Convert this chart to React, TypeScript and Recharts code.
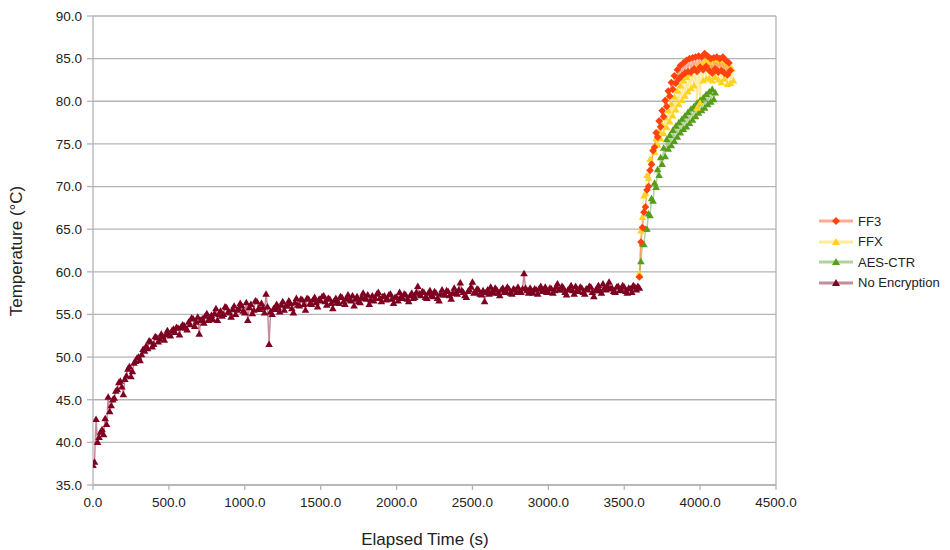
import { LineChart, Line, XAxis, YAxis, CartesianGrid, ReferenceLine } from 'recharts';

const X_TICKS = [0, 500, 1000, 1500, 2000, 2500, 3000, 3500, 4000, 4500];
const Y_TICKS = [35, 40, 45, 50, 55, 60, 65, 70, 75, 80, 85, 90];

// baseline run, one reading every 10 s from t = 0 (20 readings per row)
const NO_ENC_START = 0;
const NO_ENC_STEP = 10;
const noEncryption = [
  37.3, 37.7, 42.7, 40.0, 40.6, 41.2, 41.5, 40.9, 42.8, 42.1, 45.3, 43.6, 44.3, 45.0, 45.2, 46.0, 46.2, 47.0, 47.2, 46.5,
  45.6, 47.4, 47.8, 48.6, 48.9, 47.7, 48.3, 49.3, 49.5, 49.9, 50.0, 49.6, 50.3, 50.9, 50.7, 51.3, 51.0, 51.9, 51.8, 51.2,
  51.5, 52.4, 52.3, 51.8, 52.1, 52.7, 52.4, 52.0, 52.6, 53.1, 52.8, 52.5, 53.1, 53.3, 52.9, 53.5, 53.4, 52.6, 53.5, 53.8,
  53.7, 53.4, 53.2, 54.1, 53.8, 54.6, 54.5, 53.6, 54.1, 54.7, 52.7, 54.3, 54.5, 54.0, 54.8, 55.1, 54.3, 54.6, 54.9, 54.4,
  55.1, 55.7, 54.3, 55.0, 55.4, 54.8, 55.0, 55.9, 55.8, 55.3, 55.2, 54.7, 55.6, 56.0, 55.0, 55.5, 55.7, 56.3, 56.0, 55.4,
  55.2, 56.4, 54.3, 55.8, 56.2, 55.1, 55.5, 56.6, 56.5, 55.7, 55.6, 56.3, 55.8, 55.2, 57.4, 55.9, 51.5, 55.3, 55.0, 55.7,
  55.6, 56.2, 55.8, 55.3, 56.1, 56.5, 55.5, 56.0, 56.0, 56.6, 56.3, 55.7, 55.2, 56.4, 56.9, 56.1, 56.0, 56.8, 56.7, 56.2,
  55.5, 56.9, 56.8, 56.3, 56.2, 56.7, 57.0, 56.4, 55.9, 56.8, 56.6, 57.1, 57.2, 56.5, 56.1, 56.9, 56.8, 56.3, 55.7, 56.6,
  56.9, 56.4, 56.3, 57.1, 57.0, 56.5, 56.2, 56.9, 57.3, 56.7, 56.6, 57.2, 56.0, 56.8, 57.1, 56.5, 56.4, 57.0, 57.5, 56.9,
  56.8, 57.3, 56.2, 56.7, 57.2, 56.6, 56.9, 57.4, 57.6, 56.9, 56.5, 57.1, 57.2, 56.7, 56.8, 57.3, 57.4, 56.8, 56.3, 57.0,
  57.0, 56.6, 57.6, 57.1, 56.9, 57.4, 57.3, 56.8, 56.5, 57.2, 57.5, 56.9, 57.0, 57.6, 58.3, 57.4, 57.2, 57.7, 57.6, 57.0,
  56.9, 57.5, 57.8, 57.2, 57.1, 57.7, 57.5, 56.9, 56.6, 57.4, 57.9, 57.3, 57.3, 57.8, 57.7, 57.2, 56.8, 57.5, 58.1, 57.5,
  57.4, 57.9, 58.7, 57.8, 57.6, 57.2, 57.0, 57.7, 57.9, 58.2, 58.8, 57.5, 57.6, 58.0, 57.9, 57.4, 57.3, 57.8, 56.5, 57.6,
  57.9, 57.4, 58.2, 57.7, 57.5, 58.1, 57.9, 57.5, 57.2, 57.9, 58.1, 57.6, 57.7, 58.2, 58.0, 57.5, 57.4, 58.0, 57.9, 57.6,
  58.2, 57.7, 57.6, 58.0, 59.8, 58.1, 57.8, 57.5, 58.1, 57.8, 57.5, 58.0, 57.9, 57.4, 58.0, 58.3, 57.7, 57.9, 58.2, 57.6,
  57.6, 58.1, 58.0, 57.5, 57.8, 58.2, 58.6, 57.9, 57.9, 58.3, 58.1, 57.6, 57.3, 57.9, 58.0, 58.4, 57.8, 57.4, 58.3, 57.9,
  57.7, 58.2, 58.1, 57.6, 57.4, 58.0, 57.9, 58.3, 58.2, 57.6, 57.1, 57.8, 58.0, 58.4, 57.8, 57.5, 58.6, 58.1, 57.9, 58.3,
  58.8, 58.0, 58.1, 57.7, 57.6, 58.2, 58.3, 57.8, 57.9, 58.4, 58.2, 57.7, 57.5, 58.1, 58.0, 57.6, 58.4, 58.2, 57.9, 58.3,
  58.1,
];

// encryption runs, one reading every 10 s from t = 3600 (10 readings per row)
const ENC_START = 3600;
const ENC_STEP = 10;
const ff3 = [
  59.4, 63.5, 65.2, 67.0, 67.6, 69.6, 70.0, 71.9, 72.6, 74.2,
  74.6, 76.3, 75.8, 77.7, 77.0, 78.9, 78.2, 80.1, 79.4, 81.2,
  80.6, 82.2, 81.4, 83.0, 82.1, 83.7, 82.6, 84.2, 83.0, 84.5,
  83.3, 84.8, 83.5, 85.0, 83.4, 85.1, 83.8, 85.2, 83.5, 85.3,
  84.0, 85.2, 83.7, 85.6, 84.1, 85.3, 83.6, 85.0, 83.3, 85.1,
  83.8, 85.2, 83.4, 85.0, 83.6, 85.2, 83.3, 84.8, 83.1, 84.5,
  83.6,
];
const ffx = [
  59.8, 64.8, 66.4, 68.9, 69.2, 71.3, 71.0, 73.2, 72.8, 74.5,
  74.0, 75.6, 74.9, 76.4, 75.6, 77.2, 76.2, 78.1, 76.9, 78.9,
  77.6, 79.7, 78.3, 80.5, 79.0, 81.2, 79.6, 81.8, 80.1, 82.4,
  80.6, 82.8, 81.1, 83.2, 81.5, 83.6, 81.8, 83.9, 79.2, 84.1,
  79.8, 84.4, 82.4, 84.6, 82.6, 84.8, 82.7, 84.6, 82.4, 84.9,
  82.8, 85.0, 82.5, 84.8, 82.2, 85.0, 82.6, 84.6, 82.0, 84.2,
  82.1, 83.8, 82.4,
];
const aesCtr = [
  59.6, 61.2, 63.3, 63.2, 65.0, 65.0, 66.8, 66.6, 68.6, 68.3,
  70.4, 69.9, 72.0, 71.3, 73.4, 72.6, 74.5, 73.5, 75.5, 74.4,
  76.0, 74.8, 76.6, 75.3, 77.1, 75.8, 77.5, 76.3, 77.9, 76.7,
  78.3, 77.0, 78.7, 77.4, 79.1, 77.8, 79.4, 78.2, 79.8, 78.6,
  80.1, 78.9, 80.4, 79.2, 80.8, 79.6, 81.1, 79.9, 81.4, 80.2,
  81.0,
];

const FONT = '"Liberation Sans", Arial, sans-serif';
const GRID = '#b3b3b3';
const MK = 3.8; // marker half size

const toPoints = (start: number, step: number, values: number[]) =>
  values.map((v, i) => ({ t: start + i * step, temp: v }));

function triangleDot(color: string, name: string) {
  return (props: any) => {
    const { cx, cy, index } = props;
    if (cx == null || cy == null) return <g key={`${name}-${index}`} />;
    return (
      <path
        key={`${name}-${index}`}
        d={`M${cx},${cy - MK}L${cx + MK},${cy + MK * 0.7}L${cx - MK},${cy + MK * 0.7}Z`}
        fill={color}
      />
    );
  };
}

function diamondDot(color: string, name: string) {
  return (props: any) => {
    const { cx, cy, index } = props;
    if (cx == null || cy == null) return <g key={`${name}-${index}`} />;
    return (
      <path
        key={`${name}-${index}`}
        d={`M${cx},${cy - MK}L${cx + MK},${cy}L${cx},${cy + MK}L${cx - MK},${cy}Z`}
        fill={color}
      />
    );
  };
}

const SERIES = [
  { name: 'FF3', color: '#ff420e', shape: 'diamond' },
  { name: 'FFX', color: '#ffd320', shape: 'triangle' },
  { name: 'AES-CTR', color: '#579d1c', shape: 'triangle' },
  { name: 'No Encryption', color: '#7e0021', shape: 'triangle' },
];

function ChartLegend() {
  return (
    <div
      style={{
        position: 'absolute', left: 817, top: 211, width: 133,
        fontFamily: FONT, fontSize: 13, color: '#222',
      }}
    >
      {SERIES.map(s => (
        <div key={s.name} style={{ display: 'flex', alignItems: 'center', height: 20.5 }}>
          <svg width={38} height={12} style={{ marginRight: 3 }}>
            <line x1={2} y1={6} x2={36} y2={6} stroke={s.color} strokeOpacity={0.45} strokeWidth={3} />
            {s.shape === 'diamond' ? (
              <path d="M19,2L23,6L19,10L15,6Z" fill={s.color} />
            ) : (
              <path d="M19,2L23,9L15,9Z" fill={s.color} />
            )}
          </svg>
          <span style={{ whiteSpace: 'nowrap' }}>{s.name}</span>
        </div>
      ))}
    </div>
  );
}

export default function App() {
  const noEncData = toPoints(NO_ENC_START, NO_ENC_STEP, noEncryption);
  const ff3Data = toPoints(ENC_START, ENC_STEP, ff3);
  const ffxData = toPoints(ENC_START, ENC_STEP, ffx);
  const aesData = toPoints(ENC_START, ENC_STEP, aesCtr);

  const tickStyle = { fontSize: 13.5, fill: '#222', fontFamily: FONT };

  return (
    <div style={{ position: 'absolute', left: 0, top: 0, width: 950, height: 550, background: '#fff' }}>
      <LineChart width={950} height={550} margin={{ top: 16, right: 174, bottom: 0, left: 0 }}>
        <CartesianGrid vertical={false} stroke={GRID} strokeWidth={1.3} />
        <XAxis
          type="number"
          dataKey="t"
          domain={[0, 4500]}
          ticks={X_TICKS}
          allowDataOverflow
          tickFormatter={(v: number) => v.toFixed(1)}
          tick={tickStyle}
          stroke={GRID}
          strokeWidth={1.3}
          tickSize={5}
          tickMargin={7}
          height={65}
          label={{
            content: () => (
              <text x={425} y={545} textAnchor="middle" fontSize={17} fill="#222" fontFamily={FONT}>
                Elapsed Time (s)
              </text>
            ),
          }}
        />
        <YAxis
          type="number"
          domain={[35, 90]}
          ticks={Y_TICKS}
          allowDataOverflow
          tickFormatter={(v: number) => v.toFixed(1)}
          tick={tickStyle}
          stroke={GRID}
          strokeWidth={1.3}
          tickSize={6}
          tickMargin={5}
          width={93}
          label={{
            content: () => (
              <text
                transform="translate(22,251) rotate(-90)"
                textAnchor="middle"
                fontSize={17}
                fill="#222"
                fontFamily={FONT}
              >
                Temperature (°C)
              </text>
            ),
          }}
        />
        <ReferenceLine x={4500} stroke={GRID} strokeWidth={1.3} />
        <Line
          data={noEncData}
          dataKey="temp"
          name="No Encryption"
          stroke="#7e0021"
          strokeOpacity={0.45}
          strokeWidth={1.5}
          dot={triangleDot('#7e0021', 'ne')}
          activeDot={false}
          isAnimationActive={false}
        />
        <Line
          data={aesData}
          dataKey="temp"
          name="AES-CTR"
          stroke="#579d1c"
          strokeOpacity={0.45}
          strokeWidth={1.5}
          dot={triangleDot('#579d1c', 'aes')}
          activeDot={false}
          isAnimationActive={false}
        />
        <Line
          data={ffxData}
          dataKey="temp"
          name="FFX"
          stroke="#ffd320"
          strokeOpacity={0.45}
          strokeWidth={1.5}
          dot={triangleDot('#ffd320', 'ffx')}
          activeDot={false}
          isAnimationActive={false}
        />
        <Line
          data={ff3Data}
          dataKey="temp"
          name="FF3"
          stroke="#ff420e"
          strokeOpacity={0.45}
          strokeWidth={1.5}
          dot={diamondDot('#ff420e', 'ff3')}
          activeDot={false}
          isAnimationActive={false}
        />
      </LineChart>
      <ChartLegend />
    </div>
  );
}
